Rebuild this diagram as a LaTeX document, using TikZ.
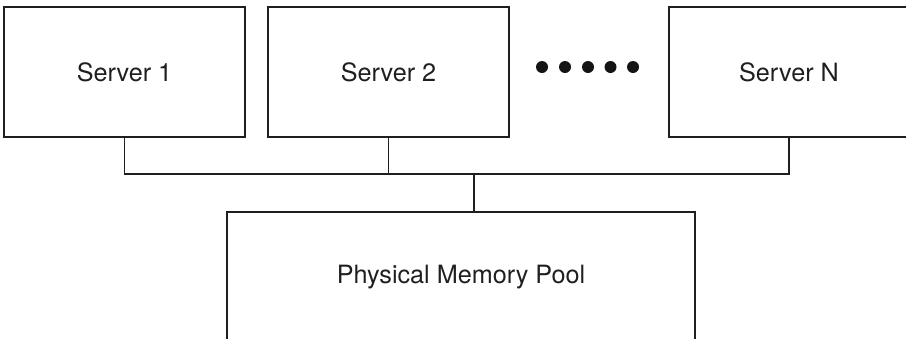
\documentclass[tikz,border=0pt]{standalone}
\usepackage{fontspec}
\setmainfont{TeX Gyre Heros}
\begin{document}
\begin{tikzpicture}[x=1pt,y=-1pt,
  line width=1.2pt,
  wire/.style={draw=black!88, line width=1.2pt},
  box/.style={draw=black!88, line width=1.2pt, rectangle, inner sep=0pt,
    minimum width=241pt, minimum height=130pt,
    font=\fontsize{25.2}{29}\selectfont, text=black!88},
  dot/.style={circle, fill=black!92, draw=none, inner sep=0pt, minimum size=12pt}]
  \useasboundingbox (0,0) rectangle (906,338);
  \clip (0,0) rectangle (906,338);

  % servers
  \node[box] (s1) at (124.5,72) {Server 1};
  \node[box] (s2) at (388.5,72) {Server 2};
  \node[box, minimum width=240pt] (sN) at (789,72) {Server N};

  % ellipsis between server 2 and server N
  \foreach \i/\xx in {1/542,2/565,3/588,4/610.5,5/633}
    \node[dot] (d\i) at (\xx,67) {};

  % shared memory pool
  \node[box, minimum width=468pt] (mem) at (461,277) {Physical Memory Pool};

  % interconnect bus
  \coordinate (tap) at (474,174);
  \draw[wire] (s1.south) -- (s1.south |- tap) -- (sN.south |- tap) -- (sN.south);
  \draw[wire] (s2.south) -- (s2.south |- tap);
  \draw[wire] (tap) -- (tap |- mem.north);
\end{tikzpicture}
\end{document}
